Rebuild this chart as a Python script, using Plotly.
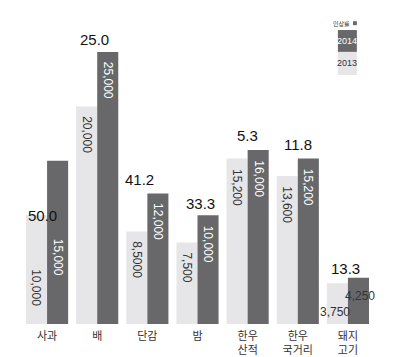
import plotly.graph_objects as go

# ---- data ----
categories = ['사과', '배', '단감', '밤', '한우 산적', '한우 국거리', '돼지 고기']
tick_labels = ['사과', '배', '단감', '밤', '한우<br>산적', '한우<br>국거리', '돼지<br>고기']
price_2013 = [10000, 20000, 8500, 7500, 15200, 13600, 3750]
price_2014 = [15000, 25000, 12000, 10000, 16000, 15200, 4250]
label_2013 = ['10,000', '20,000', '8,5000', '7,500', '15,200', '13,600', '3,750']
label_2014 = ['15,000', '25,000', '12,000', '10,000', '16,000', '15,200', '4,250']
rise_rate = [50.0, 25.0, 41.2, 33.3, 5.3, 11.8, 13.3]
legend_title = '인상률'
series_names = ['2013', '2014']

LIGHT = '#e6e6e8'
DARK = '#68686b'
TXT = '#333333'
NUM_FONT = 'Liberation Sans, Arial, sans-serif'
KR_FONT = 'Noto Sans CJK KR, sans-serif'

fig = go.Figure()
fig.add_trace(go.Bar(x=categories, y=price_2013, name=series_names[0],
                     marker=dict(color=LIGHT, line=dict(width=0)), showlegend=False))
fig.add_trace(go.Bar(x=categories, y=price_2014, name=series_names[1],
                     marker=dict(color=DARK, line=dict(width=0)), showlegend=False))

annotations = []
BAR_OFF = 10.5  # pixel offset of each bar's centre from the group centre
rate_xshift = [-5, -3, -8, 3, 0, 0, -2]
rate_yshift = [0, 2, 3, 1, 4, 4, -1]
for i, cat in enumerate(categories):
    small = max(price_2013[i], price_2014[i]) < 6000
    if small:
        annotations.append(dict(x=cat, y=price_2013[i], text=label_2013[i], showarrow=False,
                                xanchor='center', yanchor='top', xshift=-BAR_OFF - 2, yshift=-20,
                                font=dict(family=NUM_FONT, size=12, color=TXT)))
        annotations.append(dict(x=cat, y=price_2014[i], text=label_2014[i], showarrow=False,
                                xanchor='center', yanchor='top', xshift=BAR_OFF + 2, yshift=-9,
                                font=dict(family=NUM_FONT, size=12, color=TXT)))
    else:
        s13 = -52 if i == 0 else -8
        s14 = -76 if i == 0 else -8
        annotations.append(dict(x=cat, y=price_2013[i], text=label_2013[i], showarrow=False,
                                textangle=90, xanchor='center', yanchor='top',
                                xshift=-BAR_OFF, yshift=s13,
                                font=dict(family=NUM_FONT, size=12, color=TXT)))
        annotations.append(dict(x=cat, y=price_2014[i], text=label_2014[i], showarrow=False,
                                textangle=90, xanchor='center', yanchor='top',
                                xshift=BAR_OFF, yshift=s14,
                                font=dict(family=NUM_FONT, size=12, color='white')))
    # rate labels
    if i == 0:
        annotations.append(dict(x=cat, y=price_2013[i], text=f'{rise_rate[i]:.1f}', showarrow=False,
                                xanchor='center', yanchor='middle',
                                xshift=rate_xshift[i], yshift=rate_yshift[i],
                                font=dict(family=NUM_FONT, size=15, color='#111111')))
    else:
        annotations.append(dict(x=cat, y=max(price_2013[i], price_2014[i]),
                                text=f'{rise_rate[i]:.1f}', showarrow=False,
                                xanchor='center', yanchor='bottom',
                                xshift=rate_xshift[i], yshift=rate_yshift[i],
                                font=dict(family=NUM_FONT, size=15, color='#111111')))

# legend (top-right)
L, R = 0.900, 0.954
shapes = [
    dict(type='rect', xref='paper', yref='paper', x0=L, x1=R, y0=0.895, y1=0.967,
         fillcolor=DARK, line=dict(width=0)),
    dict(type='rect', xref='paper', yref='paper', x0=L, x1=R, y0=0.819, y1=0.895,
         fillcolor=LIGHT, line=dict(width=0)),
    dict(type='rect', xref='paper', yref='paper', x0=0.943, x1=0.954, y0=0.983, y1=0.996,
         fillcolor=DARK, line=dict(width=0)),
]
annotations += [
    dict(xref='paper', yref='paper', x=0.941, y=0.990, text=legend_title, showarrow=False,
         xanchor='right', yanchor='middle', font=dict(family=KR_FONT, size=6, color=TXT)),
    dict(xref='paper', yref='paper', x=(L + R) / 2, y=0.931, text=series_names[1], showarrow=False,
         xanchor='center', yanchor='middle', font=dict(family=NUM_FONT, size=9, color='white')),
    dict(xref='paper', yref='paper', x=(L + R) / 2, y=0.857, text=series_names[0], showarrow=False,
         xanchor='center', yanchor='middle', font=dict(family=NUM_FONT, size=9, color=TXT)),
]

fig.update_layout(
    width=399, height=357,
    margin=dict(l=22, r=26, t=20, b=33),
    paper_bgcolor='white', plot_bgcolor='white',
    barmode='group', bargap=0.16, bargroupgap=0.0,
    showlegend=False,
    annotations=annotations, shapes=shapes,
    xaxis=dict(tickmode='array', tickvals=categories, ticktext=tick_labels,
               showgrid=False, showline=False, zeroline=False, ticks='',
               automargin=False, ticklabelstandoff=4,
               tickfont=dict(family=KR_FONT, size=11, color=TXT),
               range=[-0.5, 6.5]),
    yaxis=dict(range=[0, 27940], showgrid=False, showticklabels=False,
               zeroline=False, showline=False, ticks='', automargin=False),
)

# remove the browser's default 8px body margin so the figure sits at the page origin
fig.write_html('out.html', config={'displayModeBar': False},
               post_script=["document.body.style.margin='0px';"])
